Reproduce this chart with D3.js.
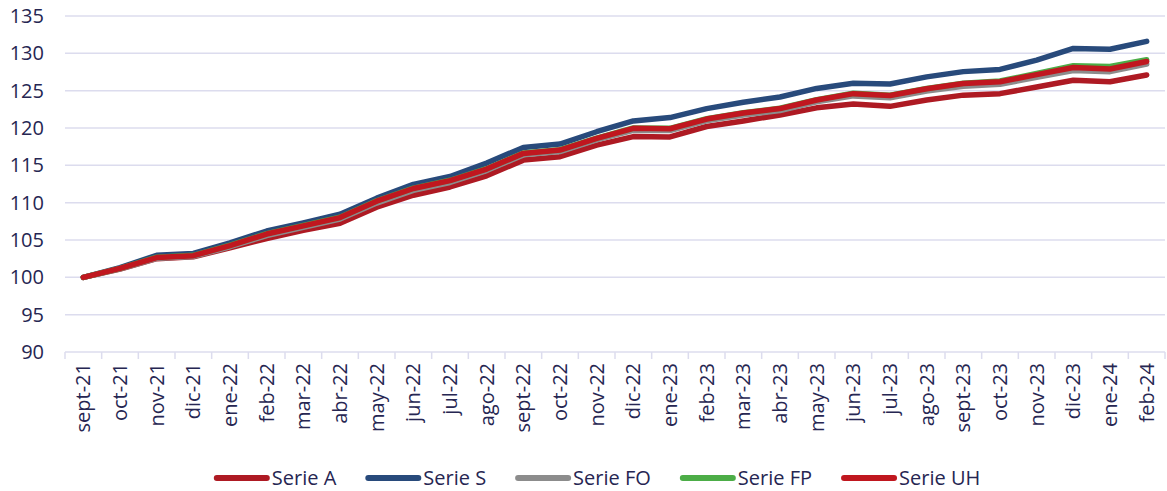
<!DOCTYPE html>
<html>
<head>
<meta charset="utf-8">
<script src="https://cdn.jsdelivr.net/npm/d3@7"></script>
<style>
	body { margin: 0; background: #fff; }
	svg text { font-family: "Open Sans", "Noto Sans", sans-serif; fill: #262652; }
</style>
</head>
<body>
<svg id="chart" width="1167" height="491"></svg>
<script>
var months = ['sept-21','oct-21','nov-21','dic-21','ene-22','feb-22','mar-22','abr-22','may-22','jun-22','jul-22','ago-22',
	'sept-22','oct-22','nov-22','dic-22','ene-23','feb-23','mar-23','abr-23','may-23','jun-23','jul-23','ago-23',
	'sept-23','oct-23','nov-23','dic-23','ene-24','feb-24'];

var serieA = [100, 101.1, 102.5, 102.75, 103.95, 105.2, 106.3, 107.25, 109.4, 111.0, 112.1, 113.6, 115.7, 116.15, 117.7,
	118.85, 118.8, 120.2, 120.95, 121.75, 122.7, 123.2, 122.9, 123.75, 124.4, 124.6, 125.5, 126.4, 126.2, 127.1];
var serieS = [100, 101.3, 102.95, 103.2, 104.6, 106.2, 107.3, 108.45, 110.6, 112.45, 113.5, 115.3, 117.4, 117.85, 119.5,
	120.95, 121.4, 122.6, 123.45, 124.15, 125.3, 126.0, 125.9, 126.85, 127.55, 127.85, 129.1, 130.65, 130.55, 131.6];
var serieFO = [100, 101.15, 102.55, 102.8, 104.1, 105.6, 106.7, 107.8, 109.95, 111.65, 112.7, 114.3, 116.4, 116.85, 118.4,
	119.7, 119.65, 120.95, 121.75, 122.35, 123.5, 124.3, 124.05, 124.95, 125.6, 125.85, 126.8, 127.7, 127.55, 128.55];
var serieFP = [100, 101.2, 102.7, 102.95, 104.3, 105.85, 106.95, 108.05, 110.25, 111.95, 113.0, 114.55, 116.65, 117.1, 118.65,
	120.0, 119.95, 121.25, 122.05, 122.65, 123.8, 124.65, 124.4, 125.3, 126.0, 126.3, 127.3, 128.35, 128.25, 129.15];
var serieUH = [100, 101.2, 102.65, 102.9, 104.25, 105.8, 106.9, 108.0, 110.2, 111.9, 112.95, 114.5, 116.6, 117.05, 118.6,
	119.95, 119.9, 121.2, 122.0, 122.6, 123.75, 124.6, 124.35, 125.25, 125.95, 126.2, 127.15, 128.1, 127.9, 128.9];

var yTicks = [90, 95, 100, 105, 110, 115, 120, 125, 130, 135];

var series = [
	{name: 'Serie A', values: serieA, color: '#ae1a23'},
	{name: 'Serie S', values: serieS, color: '#284a7b'},
	{name: 'Serie FO', values: serieFO, color: '#8c8c8c'},
	{name: 'Serie FP', values: serieFP, color: '#4cad47'},
	{name: 'Serie UH', values: serieUH, color: '#c0171f'}
];

var margin = {left: 65, right: 2, top: 16, bottom: 139};
var width = 1167, height = 491;
var fontSize = '20px';

var svg = d3.select('#chart');

var x = d3.scaleBand()
	.domain(months)
	.range([margin.left, width - margin.right])
	.padding(0);

var y = d3.scaleLinear()
	.domain([90, 135])
	.range([height - margin.bottom, margin.top]);

// gridlines
svg.append('g')
	.selectAll('line')
	.data(yTicks)
	.enter()
		.append('line')
			.attr('x1', margin.left)
			.attr('x2', width - margin.right)
			.attr('y1', function(d) { return y(d); })
			.attr('y2', function(d) { return y(d); })
			.attr('stroke', '#dcdcee')
			.attr('stroke-width', 1.5);

// y labels
var yAxis = svg.append('g')
	.attr('transform', 'translate(44,0)')
	.call(d3.axisLeft(y).tickValues(yTicks).tickSize(0).tickPadding(0));
yAxis.select('.domain').remove();
yAxis.selectAll('text')
	.style('font-size', fontSize)
	.attr('fill', null);

// x axis tick marks at category boundaries
var edges = months.map(function(m) { return x(m); });
edges.push(width - margin.right);
svg.append('g')
	.selectAll('line')
	.data(edges)
	.enter()
		.append('line')
			.attr('x1', function(d) { return d; })
			.attr('x2', function(d) { return d; })
			.attr('y1', y(90))
			.attr('y2', y(90) + 7)
			.attr('stroke', '#dcdcee')
			.attr('stroke-width', 1.5);

// x labels
var xAxis = svg.append('g')
	.attr('transform', 'translate(0,' + y(90) + ')')
	.call(d3.axisBottom(x).tickSize(0));
xAxis.select('.domain').remove();
xAxis.selectAll('text')
	.style('font-size', fontSize)
	.attr('fill', null)
	.attr('text-anchor', 'end')
	.attr('dy', '0.35em')
	.attr('transform', 'translate(0,11) rotate(-90)')
	.attr('x', 0)
	.attr('y', 0);

// lines
var line = d3.line()
	.x(function(d, i) { return x(months[i]) + x.bandwidth() / 2; })
	.y(function(d) { return y(d); });

svg.append('g')
	.selectAll('path')
	.data(series)
	.enter()
		.append('path')
			.attr('d', function(s) { return line(s.values); })
			.attr('fill', 'none')
			.attr('stroke', function(s) { return s.color; })
			.attr('stroke-width', 5.5)
			.attr('stroke-linejoin', 'round')
			.attr('stroke-linecap', 'round');

// legend
var legend = svg.append('g');
var lx = 0;
series.forEach(function(s) {
	var item = legend.append('g').attr('transform', 'translate(' + lx + ',0)');
	item.append('line')
		.attr('x1', 3).attr('x2', 53)
		.attr('y1', 0).attr('y2', 0)
		.attr('stroke', s.color)
		.attr('stroke-width', 6)
		.attr('stroke-linecap', 'round');
	var t = item.append('text')
		.attr('x', 58)
		.attr('y', 0)
		.attr('dy', '0.35em')
		.style('font-size', fontSize)
		.text(s.name);
	lx += 58 + t.node().getComputedTextLength() + 29;
});
legend.attr('transform', 'translate(' + (597 - (lx - 29) / 2) + ',478)');
</script>
</body>
</html>
